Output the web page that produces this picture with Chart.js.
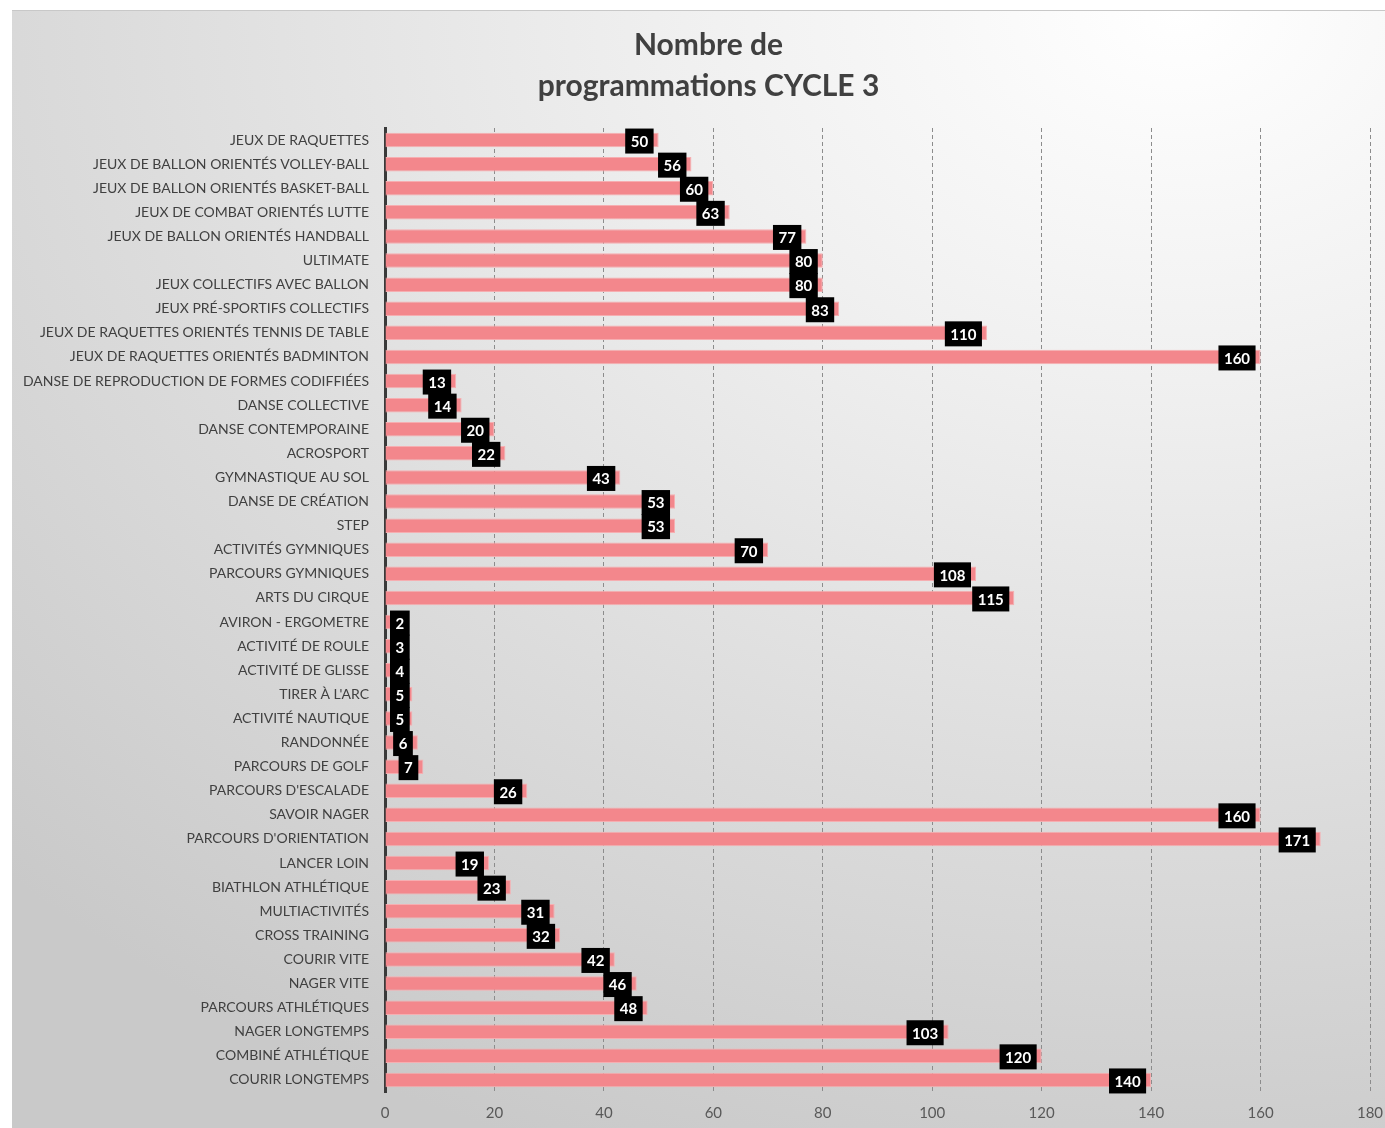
<!DOCTYPE html>
<html>
<head>
<meta charset="utf-8">
<script src="https://cdn.jsdelivr.net/npm/chart.js@4"></script>
<style>
  html, body { margin: 0; padding: 0; background: #fff; }
  #wrap {
    position: absolute; left: 12px; top: 10px; width: 1373px; height: 1118px;
    border-top: 1px solid #c8c8c8;
    background: radial-gradient(ellipse 120% 110% at 85% 0%, #ffffff 0%, #f0f0f0 30%, #dcdcdc 65%, #c9c9c9 100%);
  }
  canvas { display: block; }
</style>
</head>
<body>
<div id="wrap"><canvas id="chart" width="1373" height="1118"></canvas></div>
<script>
const categories = [
  "JEUX DE RAQUETTES",
  "JEUX DE BALLON ORIENTÉS VOLLEY-BALL",
  "JEUX DE BALLON ORIENTÉS BASKET-BALL",
  "JEUX DE COMBAT ORIENTÉS LUTTE",
  "JEUX DE BALLON ORIENTÉS HANDBALL",
  "ULTIMATE",
  "JEUX COLLECTIFS AVEC BALLON",
  "JEUX PRÉ-SPORTIFS COLLECTIFS",
  "JEUX DE RAQUETTES ORIENTÉS TENNIS DE TABLE",
  "JEUX DE RAQUETTES ORIENTÉS BADMINTON",
  "DANSE DE REPRODUCTION DE FORMES CODIFFIÉES",
  "DANSE COLLECTIVE",
  "DANSE CONTEMPORAINE",
  "ACROSPORT",
  "GYMNASTIQUE AU SOL",
  "DANSE DE CRÉATION",
  "STEP",
  "ACTIVITÉS GYMNIQUES",
  "PARCOURS GYMNIQUES",
  "ARTS DU CIRQUE",
  "AVIRON - ERGOMETRE",
  "ACTIVITÉ DE ROULE",
  "ACTIVITÉ DE GLISSE",
  "TIRER À L'ARC",
  "ACTIVITÉ NAUTIQUE",
  "RANDONNÉE",
  "PARCOURS DE GOLF",
  "PARCOURS D'ESCALADE",
  "SAVOIR NAGER",
  "PARCOURS D'ORIENTATION",
  "LANCER LOIN",
  "BIATHLON ATHLÉTIQUE",
  "MULTIACTIVITÉS",
  "CROSS TRAINING",
  "COURIR VITE",
  "NAGER VITE",
  "PARCOURS ATHLÉTIQUES",
  "NAGER LONGTEMPS",
  "COMBINÉ ATHLÉTIQUE",
  "COURIR LONGTEMPS"
];
const counts = [
  50, 56, 60, 63, 77, 80, 80, 83, 110, 160,
  13, 14, 20, 22, 43, 53, 53, 70, 108, 115,
  2, 3, 4, 5, 5, 6, 7, 26, 160, 171,
  19, 23, 31, 32, 42, 46, 48, 103, 120, 140
];
const titleLines = ["Nombre de", "programmations CYCLE 3"];
const xMin = 0, xMax = 180, xStep = 20;

const FONT = "Lato, 'Open Sans', sans-serif";

// title drawn by hand so it can sit a little right of centre, like the original
const chartTitle = {
  id: "chartTitle",
  afterDraw(chart) {
    const ctx = chart.ctx;
    ctx.save();
    ctx.font = "bold 30px " + FONT;
    ctx.fillStyle = "#404040";
    ctx.textAlign = "center";
    ctx.textBaseline = "middle";
    const cx = chart.width / 2 + 10;
    titleLines.forEach((line, i) => ctx.fillText(line, cx, 34 + i * 41));
    ctx.restore();
  }
};

// black value boxes at the end of each bar
const valueBoxes = {
  id: "valueBoxes",
  afterDatasetsDraw(chart) {
    const ctx = chart.ctx;
    const meta = chart.getDatasetMeta(0);
    const left = chart.scales.x.getPixelForValue(0);
    ctx.save();
    ctx.font = "bold 15px " + FONT;
    ctx.textAlign = "center";
    ctx.textBaseline = "middle";
    meta.data.forEach((bar, i) => {
      const txt = String(counts[i]);
      const w = ctx.measureText(txt).width + 11;
      const h = 25;
      let x1 = bar.x - 5;
      let x0 = x1 - w;
      if (x0 < left + 5) { x0 = left + 5; x1 = x0 + w; }
      const y0 = bar.y - h / 2 + 1;
      ctx.fillStyle = "#000";
      ctx.fillRect(x0, y0, w, h);
      ctx.fillStyle = "#fff";
      ctx.fillText(txt, (x0 + x1) / 2, y0 + h / 2 + 1);
    });
    ctx.restore();
  }
};

new Chart(document.getElementById("chart"), {
  type: "bar",
  data: {
    labels: categories,
    datasets: [{
      data: counts,
      backgroundColor: "#f3878c",
      borderColor: "#f6aeb1",
      borderWidth: 1,
      barPercentage: 0.6,
      categoryPercentage: 1.0
    }]
  },
  plugins: [valueBoxes, chartTitle],
  options: {
    indexAxis: "y",
    responsive: false,
    animation: false,
    layout: { padding: { left: 0, right: 15, top: 117, bottom: 7 } },
    plugins: {
      legend: { display: false },
      tooltip: { enabled: false },
      title: { display: false }
    },
    scales: {
      x: {
        min: xMin,
        max: xMax,
        afterFit(scale) {
          scale.height = 30;
          scale.paddingRight = 0;
          scale.paddingLeft = 0;
        },
        ticks: {
          stepSize: xStep,
          color: "#595959",
          font: { family: FONT, size: 15 },
          padding: 12
        },
        grid: {
          color: "#8c8c8c",
          lineWidth: 1,
          drawTicks: false
        },
        border: { display: false, dash: [4, 3] }
      },
      y: {
        afterFit(scale) { scale.width = 373; },
        ticks: {
          color: "#404040",
          font: { family: FONT, size: 14 },
          padding: 16,
          autoSkip: false
        },
        grid: { display: false, drawTicks: false },
        border: { display: true, color: "#3a3a3a", width: 3 }
      }
    }
  }
});
</script>
</body>
</html>
